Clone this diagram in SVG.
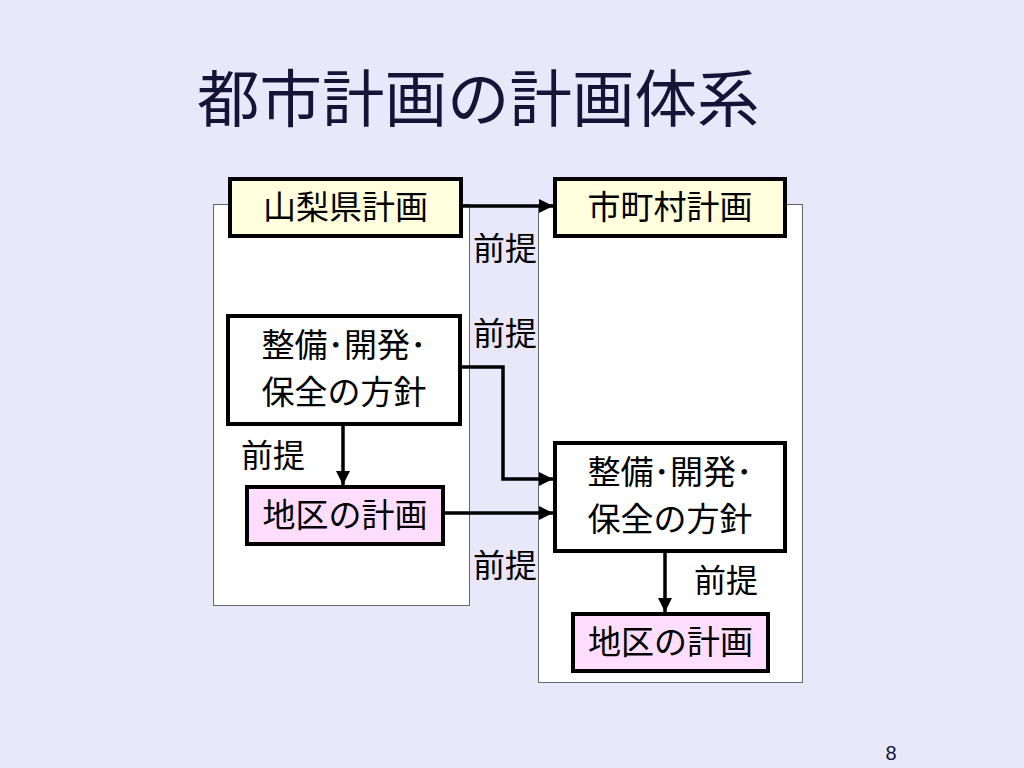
<svg xmlns="http://www.w3.org/2000/svg" width="1024" height="768" viewBox="0 0 1024 768">
<defs>
<style>
.t{font-family:"Noto Sans CJK JP","Noto Sans CJK SC",sans-serif;fill:#000;}
.c{text-anchor:middle;font-size:33px;}
.l{font-size:32px;}
.box{stroke:#000;stroke-width:4;}
.y{fill:#FFFFDD;}
.w{fill:#FFFFFF;}
.p{fill:#FFDDFF;}
.cont{fill:#FFFFFF;stroke:#666;stroke-width:1;}
.e{fill:none;stroke:#000;stroke-width:3.5;}
</style>
<marker id="ah" viewBox="0 0 10 10" refX="10" refY="5" markerWidth="4" markerHeight="4" markerUnits="strokeWidth" orient="auto">
<path d="M0,0 L10,5 L0,10 z" fill="#000"/>
</marker>
</defs>
<rect width="1024" height="768" fill="#E8E8FA"/>
<text x="197" y="122" font-family="Noto Sans CJK JP, Noto Sans CJK SC, sans-serif" font-size="62.5" fill="#141438">都市計画の計画体系</text>
<g id="containers">
<rect class="cont" x="213.5" y="204.5" width="256" height="401"/>
<rect class="cont" x="538.5" y="204.5" width="264" height="478"/>
</g>
<g id="connectors">
<line class="e" x1="462" y1="206" x2="553" y2="206" marker-end="url(#ah)"/>
<polyline class="e" points="461,367 503,367 503,479 553,479" marker-end="url(#ah)"/>
<line class="e" x1="444" y1="513" x2="553" y2="513" marker-end="url(#ah)"/>
<line class="e" x1="343" y1="425" x2="343" y2="485" marker-end="url(#ah)"/>
<line class="e" x1="665" y1="552" x2="665" y2="612" marker-end="url(#ah)"/>
</g>
<g id="n1"><rect class="box y" x="230" y="179" width="231" height="57"/><text class="t c" x="345.5" y="219">山梨県計画</text></g>
<g id="n2"><rect class="box y" x="555" y="179" width="230" height="57"/><text class="t c" x="670" y="219">市町村計画</text></g>
<g id="n3"><rect class="box w" x="228" y="316" width="232" height="108"/><text class="t c" x="344" y="357">整備･開発･</text><text class="t c" x="344" y="404">保全の方針</text></g>
<g id="n4"><rect class="box p" x="247" y="487" width="196" height="57"/><text class="t c" x="345" y="527">地区の計画</text></g>
<g id="n5"><rect class="box w" x="555" y="443" width="230" height="108"/><text class="t c" x="670" y="484">整備･開発･</text><text class="t c" x="670" y="531">保全の方針</text></g>
<g id="n6"><rect class="box p" x="573" y="614" width="195" height="57"/><text class="t c" x="670.5" y="654">地区の計画</text></g>
<g id="labels">
<text class="t l" x="473" y="260">前提</text>
<text class="t l" x="473" y="345">前提</text>
<text class="t l" x="241" y="467">前提</text>
<text class="t l" x="473" y="577">前提</text>
<text class="t l" x="694" y="592">前提</text>
</g>
<text x="891" y="760" text-anchor="middle" font-family="Liberation Sans, sans-serif" font-size="20" fill="#141438">8</text>
</svg>
